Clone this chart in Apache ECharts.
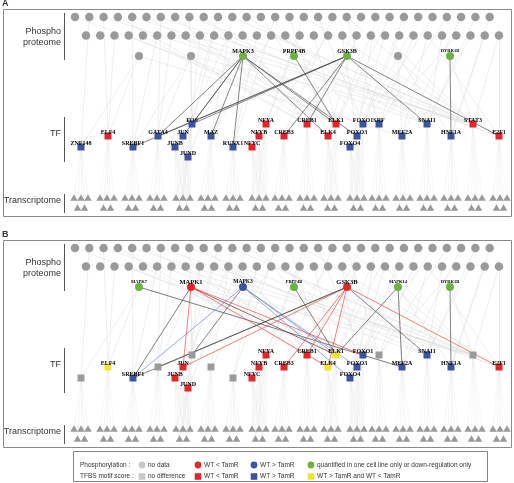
<!DOCTYPE html>
<html><head><meta charset="utf-8">
<script src="https://cdn.jsdelivr.net/npm/echarts@6/dist/echarts.min.js"></script>
<style>html,body{margin:0;padding:0;background:#fff}#c{width:514px;height:483px}</style>
</head><body><div id="c"></div>
<script>
// ---------- data ----------
const phosphoRow1Count = 30;
const phosphoRow2Count = 30;
const kinaseSlotX = [139, 191, 243, 294, 347, 398, 450];
const kinaseNamesA = ['', '', 'MAPK3', 'PRPF4B', 'GSK3B', '', 'DYRK1B'];
const kinaseStatusA = ['none', 'none', 'green', 'green', 'green', 'none', 'green'];
const kinaseNamesB = ['MAPK7', 'MAPK1', 'MAPK3', 'PRPF4B', 'GSK3B', 'MAPK14', 'DYRK1B'];
const kinaseStatusB = ['green', 'red', 'blue', 'green', 'red', 'green', 'green'];

const tfNames  = ['ZNF148','ELF4','SREBF1','GATA4','FOS','JUN','JUNB','JUND','MAZ','RUNX1','NFYC','NFYA','NFYB','CREB3','CREB1','ELK1','ELK4','FOXO1','SRF','FOXO3','FOXO4','MEF2A','SNAI1','HNF1A','STAT3','E2F1'];
const tfX      = [81,108,133,158,192,183,175,188,211,233,252,266,259,284,307,336,328,363,379,357,350,402,427,451,473,499];
const tfRow    = [2,1,2,1,0,1,2,3,1,2,2,0,1,1,0,0,1,0,0,1,2,1,0,1,0,1];
const tfGroup  = [0,1,2,3,4,4,4,4,5,6,7,7,7,8,9,10,10,11,12,11,11,13,14,15,16,17];
const tfStatusA = ['blue','red','blue','blue','blue','blue','blue','blue','blue','blue','red','red','red','red','red','red','red','blue','blue','blue','blue','blue','blue','blue','red','red'];
const tfStatusB = ['gray','yellow','blue','gray','gray','red','red','red','gray','gray','red','red','red','red','red','yellow','yellow','blue','gray','blue','blue','blue','blue','blue','gray','red'];

const transGroupX = [81,107,132,157,183,208,233,259,282,307,331,357,379,403,427,451,475,500];

const darkEdgesA = [
  ['MAPK3','GATA4','k'],['MAPK3','FOS','k'],['MAPK3','JUN','k'],['MAPK3','MAZ','k'],['MAPK3','RUNX1','k'],
  ['MAPK3','ELK1','k'],['MAPK3','ELK4','k'],['MAPK3','FOXO3','k'],
  ['GSK3B','SREBF1','k'],['GSK3B','GATA4','k'],['GSK3B','FOS','k'],['GSK3B','CREB1','k'],['GSK3B','CREB3','k'],
  ['GSK3B','SNAI1','k'],['GSK3B','E2F1','k'],
  ['PRPF4B','ELK1','k'],['DYRK1B','HNF1A','k']
];
const darkEdgesB = [
  ['MAPK7','MEF2A','k'],
  ['MAPK1','SREBF1','k'],['MAPK1','JUN','r'],['MAPK1','ELK4','r'],['MAPK1','ELK1','d'],['MAPK1','FOXO1','r'],
  ['MAPK3','SREBF1','b'],['MAPK3','FOS','k'],['MAPK3','ELK1','b'],['MAPK3','FOXO3','b'],['MAPK3','FOXO4','b'],
  ['GSK3B','JUN','r'],['GSK3B','CREB1','r'],['GSK3B','CREB3','r'],['GSK3B','ELK4','r'],['GSK3B','SREBF1','k'],
  ['GSK3B','GATA4','k'],['GSK3B','SNAI1','k'],['GSK3B','E2F1','r'],
  ['PRPF4B','ELK1','k'],['MAPK14','ELK1','k'],['MAPK14','MEF2A','k'],['DYRK1B','HNF1A','k']
];
// faint phospho -> TF edges (source: a=row1, b=row2, k=kinase slot)
const faintEdges = [
  ['a1','ZNF148'],['k0','ZNF148'],['a2','ELF4'],['b2','ELF4'],['k0','ELF4'],
  ['a4','SREBF1'],['b5','SREBF1'],['k1','SREBF1'],['a6','GATA4'],['b6','GATA4'],['k1','GATA4'],
  ['a8','FOS'],['b9','FOS'],['k1','FOS'],['b10','JUN'],['a10','JUN'],['a12','JUND'],['b8','JUND'],
  ['a11','MAZ'],['b13','MAZ'],['a14','RUNX1'],['b12','RUNX1'],['a16','NFYA'],['b15','NFYA'],['b17','NFYB'],
  ['a18','CREB3'],['a3','CREB1'],['a7','CREB1'],['b11','CREB1'],['a20','CREB1'],
  ['a5','ELK1'],['a9','ELK1'],['b3','ELK1'],['b7','ELK1'],['a13','ELK1'],['b16','ELK1'],['a22','ELK1'],['b20','ELK1'],
  ['b4','ELK4'],['a15','ELK4'],['b19','ELK4'],
  ['a0','FOXO1'],['a17','FOXO1'],['b14','FOXO1'],['a24','FOXO1'],['b22','FOXO1'],
  ['a19','SRF'],['a26','SRF'],['b23','SRF'],['b26','SRF'],
  ['b18','FOXO3'],['a21','FOXO3'],['a23','FOXO3'],['b21','FOXO4'],['a25','FOXO4'],
  ['a27','MEF2A'],['b24','MEF2A'],['k5','MEF2A'],
  ['a2','SNAI1'],['a12','SNAI1'],['b10','SNAI1'],['a28','SNAI1'],['b25','SNAI1'],['b27','SNAI1'],
  ['a29','HNF1A'],['b28','HNF1A'],['k5','HNF1A'],
  ['a4','STAT3'],['a8','STAT3'],['a11','STAT3'],['b6','STAT3'],['b13','STAT3'],['a19','STAT3'],['b21','STAT3'],['k1','STAT3'],['b29','STAT3'],
  ['a6','E2F1'],['b9','E2F1'],['a16','E2F1'],['b24','E2F1'],['b29','E2F1'],['k0','MEF2A'],['k6','STAT3']
];

// ---------- layout & style ----------
const panelOffset = [0, 231];
const rowY = {p1: 17, p2: 35.5, k: 56, tf: [124, 136, 147, 157], t1: 197.5, t2: 207.5};
const nodeColor = {none:'#9a9a9a', gray:'#9a9a9a', green:'#6bb33e', red:'#e3262b', blue:'#3c53a2', yellow:'#f0e52d'};
const edgeColor = {k:'#505050', r:'#e8474a', b:'#7386c4', d:'#6b2424'};
const kinaseFont = {A:{MAPK3:6,PRPF4B:6,GSK3B:6,DYRK1B:4.5}, B:{MAPK7:4.5,MAPK1:6.5,MAPK3:5.5,PRPF4B:4.5,GSK3B:6.5,MAPK14:4.5,DYRK1B:4.5}};

const p1x = i => 75 + i * 14.3;
const p2x = i => 86 + i * 14.24;

const phosphoNodes = [], kinaseNodes = [], tfNodes = [], triNodes = [];
const faintLines = [], fanLines = [], darkLines = [];

[0, 1].forEach(p => {
  const off = panelOffset[p];
  const kNames = p ? kinaseNamesB : kinaseNamesA;
  const kStat = p ? kinaseStatusB : kinaseStatusA;
  const tStat = p ? tfStatusB : tfStatusA;
  const fonts = p ? kinaseFont.B : kinaseFont.A;
  for (let i = 0; i < phosphoRow1Count; i++) phosphoNodes.push([p1x(i), rowY.p1 + off]);
  for (let i = 0; i < phosphoRow2Count; i++) phosphoNodes.push([p2x(i), rowY.p2 + off]);
  const kPos = {};
  kinaseSlotX.forEach((x, i) => {
    kPos[kNames[i] || ('slot' + i)] = [x, rowY.k + off];
    kinaseNodes.push({
      name: kNames[i], value: [x, rowY.k + off],
      itemStyle: {color: nodeColor[kStat[i]]},
      label: {show: !!kNames[i], fontSize: fonts[kNames[i]] || 5}
    });
  });
  const tPos = {};
  tfNames.forEach((n, i) => {
    const y = rowY.tf[tfRow[i]] + off;
    tPos[n] = [tfX[i], y];
    tfNodes.push({
      name: n, value: [tfX[i], y],
      itemStyle: {color: nodeColor[tStat[i]]},
      label: {show: tStat[i] !== 'gray'}
    });
    const gx = transGroupX[tfGroup[i]];
    [-7, 0, 7].forEach(d => fanLines.push({coords: [[tfX[i], y], [gx + d, rowY.t1 + off]]}));
    [-3.5, 3.5].forEach(d => fanLines.push({coords: [[tfX[i], y], [gx + d, rowY.t2 + off]]}));
  });
  transGroupX.forEach(gx => {
    [-7, 0, 7].forEach(d => triNodes.push([gx + d, rowY.t1 + off]));
    [-3.5, 3.5].forEach(d => triNodes.push([gx + d, rowY.t2 + off]));
  });
  faintEdges.forEach(([s, t]) => {
    const idx = +s.slice(1);
    let src;
    if (s[0] === 'a') src = [p1x(idx), rowY.p1 + off];
    else if (s[0] === 'b') src = [p2x(idx), rowY.p2 + off];
    else src = [kinaseSlotX[idx], rowY.k + off];
    faintLines.push({coords: [src, tPos[t]]});
  });
  (p ? darkEdgesB : darkEdgesA).forEach(([s, t, c]) => {
    darkLines.push({coords: [kPos[s], tPos[t]], lineStyle: {color: edgeColor[c]}});
  });
});

// ---------- graphics ----------
const txt = (x, y, text, size, align, weight) => ({
  type: 'text', x, y, z: 50,
  style: {text, fill: '#333', font: (weight || 'normal') + ' ' + size + 'px "Liberation Sans", Arial, sans-serif', textAlign: align || 'left', textVerticalAlign: 'middle'}
});
const seg = (x1, y1, x2, y2, c, w) => ({type: 'line', z: 50, shape: {x1, y1, x2, y2}, style: {stroke: c || '#666', lineWidth: w || 1}});
const graphics = [];
[0, 1].forEach(p => {
  const off = panelOffset[p];
  graphics.push(txt(2, 4 + off, p ? 'B' : 'A', 9, 'left', 'bold'));
  graphics.push({type: 'rect', z: 0, shape: {x: 3.5, y: 9.5 + off, width: 508, height: 207}, style: {fill: 'none', stroke: '#8a8a8a', lineWidth: 1}});
  graphics.push(txt(61, 32 + off, 'Phospho', 9, 'right'));
  graphics.push(txt(61, 42.5 + off, 'proteome', 9, 'right'));
  graphics.push(txt(61, 134 + off, 'TF', 9, 'right'));
  graphics.push(txt(61, 201 + off, 'Transcriptome', 9, 'right'));
  graphics.push(seg(64.5, 13 + off, 64.5, 60 + off, '#555'));
  graphics.push(seg(64.5, 117 + off, 64.5, 162 + off, '#555'));
  graphics.push(seg(64.5, 194 + off, 64.5, 213 + off, '#555'));
});
// legend
graphics.push({type: 'rect', z: 50, shape: {x: 73.5, y: 451.5, width: 414, height: 30}, style: {fill: '#fff', stroke: '#666', lineWidth: 0.8}});
const legRows = [
  {y: 465, label: 'Phosphorylation :', shape: 'circle', items: [['#c8c8c8', 'no data', 142], [nodeColor.red, 'WT < TamR', 198], [nodeColor.blue, 'WT > TamR', 254], [nodeColor.green, 'quantified in one cell line only or down-regulation only', 311]]},
  {y: 476.5, label: 'TFBS motif score :', shape: 'rect', items: [['#c8c8c8', 'no difference', 142], [nodeColor.red, 'WT < TamR', 198], [nodeColor.blue, 'WT > TamR', 254], [nodeColor.yellow, 'WT > TamR and WT < TamR', 311]]}
];
legRows.forEach(r => {
  graphics.push(txt(80, r.y, r.label, 6.5));
  r.items.forEach(([c, t, x]) => {
    if (r.shape === 'circle') graphics.push({type: 'circle', z: 51, shape: {cx: x, cy: r.y, r: 3.4}, style: {fill: c}});
    else graphics.push({type: 'rect', z: 51, shape: {x: x - 3.3, y: r.y - 3.3, width: 6.6, height: 6.6}, style: {fill: c}});
    graphics.push(txt(x + 6, r.y, t, 6.5));
  });
});

// ---------- chart ----------
const chart = echarts.init(document.getElementById('c'), null, {renderer: 'canvas'});
const tfLabel = {show: true, position: 'inside', offset: [0, -4], formatter: '{b}', color: '#000', fontFamily: '"Liberation Serif", "Times New Roman", serif', fontWeight: 'bold', fontSize: 6};
chart.setOption({
  animation: false,
  backgroundColor: '#fff',
  grid: {left: 0, right: 0, top: 0, bottom: 0},
  xAxis: {type: 'value', min: 0, max: 514, show: false},
  yAxis: {type: 'value', min: 0, max: 483, inverse: true, show: false},
  graphic: graphics,
  series: [
    {type: 'lines', coordinateSystem: 'cartesian2d', silent: true, z: 1, data: fanLines, lineStyle: {color: '#e4e4e4', width: 0.5, opacity: 0.7}},
    {type: 'lines', coordinateSystem: 'cartesian2d', silent: true, z: 1, data: faintLines, lineStyle: {color: '#d6d6d6', width: 0.5, opacity: 0.8}},
    {type: 'lines', coordinateSystem: 'cartesian2d', silent: true, z: 2, data: darkLines, lineStyle: {width: 0.7, opacity: 1}},
    {type: 'scatter', silent: true, z: 3, symbol: 'circle', symbolSize: 8.5, data: phosphoNodes, itemStyle: {color: '#9a9a9a', opacity: 1}},
    {type: 'scatter', silent: true, z: 3, symbol: 'triangle', symbolSize: [7.5, 6.5], data: triNodes, itemStyle: {color: '#9a9a9a', opacity: 1}},
    {type: 'scatter', silent: true, z: 4, symbol: 'circle', symbolSize: 8, data: kinaseNodes, itemStyle: {opacity: 1},
      label: {show: true, position: 'inside', offset: [0, -5], formatter: '{b}', color: '#000', fontFamily: '"Liberation Serif", "Times New Roman", serif', fontWeight: 'bold', fontSize: 5}},
    {type: 'scatter', silent: true, z: 4, symbol: 'rect', symbolSize: 7, data: tfNodes, itemStyle: {opacity: 1}, label: tfLabel}
  ]
});
</script></body></html>
